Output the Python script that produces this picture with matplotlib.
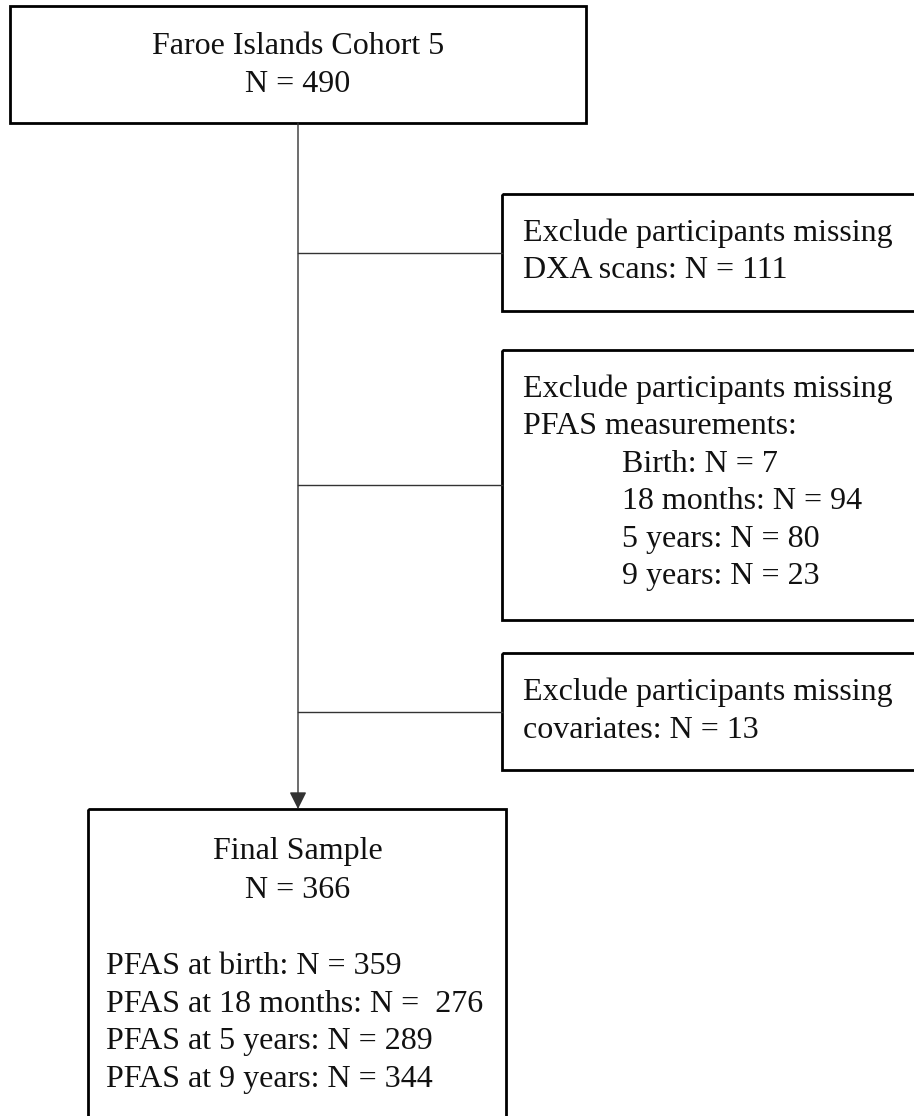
import matplotlib.pyplot as plt
from matplotlib.patches import Rectangle

plt.rcParams["font.family"] = ["Liberation Serif", "DejaVu Serif"]

# Flowchart content
cohort_name = "Faroe Islands Cohort 5"
cohort_n = 490
dxa_missing = 111
pfas_times = ["Birth", "18 months", "5 years", "9 years"]
pfas_missing = [7, 94, 80, 23]
covar_missing = 13
final_n = 366
final_times = ["birth", "18 months", "5 years", "9 years"]
final_counts = [359, " 276", 289, 344]

FS = 23
LW_BOX = 2.0
LW_LINE = 1.0
STEP = 37.5

fig = plt.figure(figsize=(9.14, 11.16), dpi=100)
ax = fig.add_axes([0, 0, 1, 1])
ax.set_xlim(0, 914)
ax.set_ylim(1116, 0)
ax.axis("off")


def box(x0, y0, x1, y1):
    ax.add_patch(Rectangle((x0, y0), x1 - x0, y1 - y0, fill=False,
                           edgecolor="black", lw=LW_BOX, clip_on=False))


def txt(x, y, s, ha="left"):
    ax.text(x, y, s, fontsize=FS, ha=ha, va="center", color="#111111")


# main vertical line with arrow
ax.annotate("", xy=(298, 809), xytext=(298, 123),
            arrowprops=dict(arrowstyle="-|>", color="#333333", lw=LW_LINE,
                            mutation_scale=26, shrinkA=0, shrinkB=0))

# top box
box(10, 6, 586, 123)
txt(298, 47, cohort_name, ha="center")
txt(298, 85, f"N = {cohort_n}", ha="center")

# exclusion boxes (right side, cut by the figure edge)
right = 930
box(502, 194, right, 311)
txt(523, 233, "Exclude participants missing")
txt(523, 271, f"DXA scans: N = {dxa_missing}")

box(502, 350, right, 620)
txt(523, 389, "Exclude participants missing")
txt(523, 389 + STEP, "PFAS measurements:")
for i, (t, n) in enumerate(zip(pfas_times, pfas_missing)):
    txt(622, 389 + STEP * (i + 2), f"{t}: N = {n}")

box(502, 653, right, 770)
txt(523, 692, "Exclude participants missing")
txt(523, 730, f"covariates: N = {covar_missing}")

# connectors
for yc in [(194 + 311) / 2, (350 + 620) / 2, (653 + 770) / 2]:
    ax.plot([298, 502], [yc, yc], color="#333333", lw=LW_LINE)

# final box
box(88, 809, 506, 1140)
txt(298, 852, "Final Sample", ha="center")
txt(298, 890, f"N = {final_n}", ha="center")
for i, (t, n) in enumerate(zip(final_times, final_counts)):
    txt(106, 967 + STEP * i, f"PFAS at {t}: N = {n}")

fig.savefig("out.png", dpi=100)
